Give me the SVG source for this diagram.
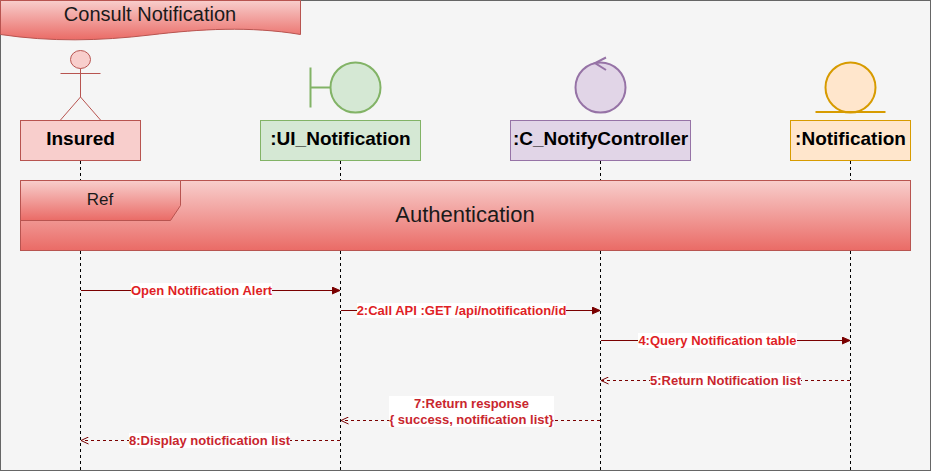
<svg xmlns="http://www.w3.org/2000/svg" width="931" height="472" viewBox="0 0 931 472">
<style>
text{font-family:"Liberation Sans",Arial,sans-serif}
.name{font-size:19px;font-weight:bold;text-anchor:middle;fill:#000}
.life{stroke:#000;stroke-width:1;stroke-dasharray:3 3;fill:none}
.msg{stroke:#7a0000;stroke-width:1;fill:none}
.dash{stroke-dasharray:3 3}
.lbl{font-size:13px;font-weight:bold;fill:#e01f26;text-anchor:middle}
.lblr{font-size:13px;font-weight:bold;fill:#c9262e;text-anchor:middle}
</style>
<defs>
<linearGradient id="red" x1="0" y1="0" x2="0" y2="1"><stop offset="0" stop-color="#f8cecc"/><stop offset="1" stop-color="#ea6b66"/></linearGradient>
<marker id="solid" markerWidth="9" markerHeight="8" refX="8" refY="4" orient="auto" markerUnits="userSpaceOnUse"><path d="M0 0.500L8 4L0 7.500Z" fill="#7a0000" stroke="#7a0000" stroke-width="1"/></marker>
<marker id="open" markerWidth="9" markerHeight="8" refX="8" refY="4" orient="auto" markerUnits="userSpaceOnUse"><path d="M0.500 0.500L8 4L0.500 7.500" fill="none" stroke="#7a0000" stroke-width="1"/></marker>
</defs>
<rect x="0.500" y="0.500" width="930" height="470" fill="#f5f5f5" stroke="#666"/>
<g id="lifelines">
<path class="life" d="M80.500 161V471M340.500 161V471M600.500 161V471M850.500 161V471"/>
</g>
<g id="title">
<path d="M0.500 0.500H300.500V34.500C250 26 200 29 150 35C100 41 50 42 0.500 34.500Z" fill="url(#red)" stroke="#b85450"/>
<text x="150" y="21" font-size="20" text-anchor="middle" fill="#1a1a1a">Consult Notification</text>
</g>
<g id="insured">
<ellipse cx="80.500" cy="59.500" rx="10" ry="9" fill="#f8cecc" stroke="#b85450"/>
<path d="M80.500 68.500V97M60.500 73.500H100.500M80.500 97L60.500 120M80.500 97L100.500 120" fill="none" stroke="#b85450"/>
<rect x="20.500" y="120.500" width="120" height="40" fill="#f8cecc" stroke="#b85450"/>
<text class="name" x="80.500" y="145">Insured</text>
</g>
<g id="ui_notification">
<path d="M310.500 67.500V107.500M310.500 87.500H330" fill="none" stroke="#82b366" stroke-width="2"/>
<circle cx="355.500" cy="87.500" r="25" fill="#d5e8d4" stroke="#82b366" stroke-width="2"/>
<rect x="260.500" y="120.500" width="160" height="40" fill="#d5e8d4" stroke="#82b366"/>
<text class="name" x="340.500" y="145">:UI_Notification</text>
</g>
<g id="c_notifycontroller">
<circle cx="600.500" cy="87.500" r="25" fill="#e1d5e7" stroke="#9673a6" stroke-width="2"/>
<path d="M606 57.500L595 63L606 70" fill="none" stroke="#9673a6" stroke-width="2"/>
<rect x="510.500" y="120.500" width="180" height="40" fill="#e1d5e7" stroke="#9673a6"/>
<text class="name" x="600.500" y="145">:C_NotifyController</text>
</g>
<g id="notification">
<circle cx="850.500" cy="87.500" r="25" fill="#ffe6cc" stroke="#d79b00" stroke-width="2"/>
<path d="M815.500 112H885.500" fill="none" stroke="#d79b00" stroke-width="2"/>
<rect x="790.500" y="120.500" width="120" height="40" fill="#ffe6cc" stroke="#d79b00"/>
<text class="name" x="850.500" y="145">:Notification</text>
</g>
<g id="authentication">
<rect x="20.500" y="180.500" width="890" height="70" fill="url(#red)" stroke="#b85450"/>
<path d="M20.500 180.500H180.500V205.500L170.500 220.500H20.500Z" fill="url(#red)" stroke="#b85450"/>
<text x="100" y="205" font-size="17" text-anchor="middle" fill="#1a1a1a">Ref</text>
<text x="465" y="222" font-size="22" text-anchor="middle" fill="#1a1a1a">Authentication</text>
</g>
<g id="connectors">
<path class="msg" d="M81 290.500H340" marker-end="url(#solid)"/>
<path class="msg" d="M341 310.500H600" marker-end="url(#solid)"/>
<path class="msg" d="M601 340.500H850" marker-end="url(#solid)"/>
<path class="msg dash" d="M850 380.500H601" marker-end="url(#open)"/>
<path class="msg dash" d="M600 420.500H341" marker-end="url(#open)"/>
<path class="msg dash" d="M340 440.500H81" marker-end="url(#open)"/>
</g>
<g id="labels">
<rect x="131" y="283" width="141" height="15" fill="#fff"/>
<text class="lbl" x="201.500" y="295">Open Notification Alert</text>
<rect x="357" y="303" width="209" height="15" fill="#fff"/>
<text class="lbl" x="461.500" y="315">2:Call API :GET /api/notification/id</text>
<rect x="638" y="333" width="159" height="15" fill="#fff"/>
<text class="lbl" x="717.500" y="345">4:Query Notification table</text>
<rect x="650" y="373" width="151" height="15" fill="#fff"/>
<text class="lblr" x="725.500" y="385">5:Return Notification list</text>
<rect x="389" y="396" width="165" height="31" fill="#fff"/>
<text class="lblr" x="471.500" y="408">7:Return response</text>
<text class="lblr" x="471.500" y="424">{ success, notification list}</text>
<rect x="129" y="433" width="161" height="15" fill="#fff"/>
<text class="lblr" x="209.500" y="445">8:Display noticfication list</text>
</g>
</svg>
